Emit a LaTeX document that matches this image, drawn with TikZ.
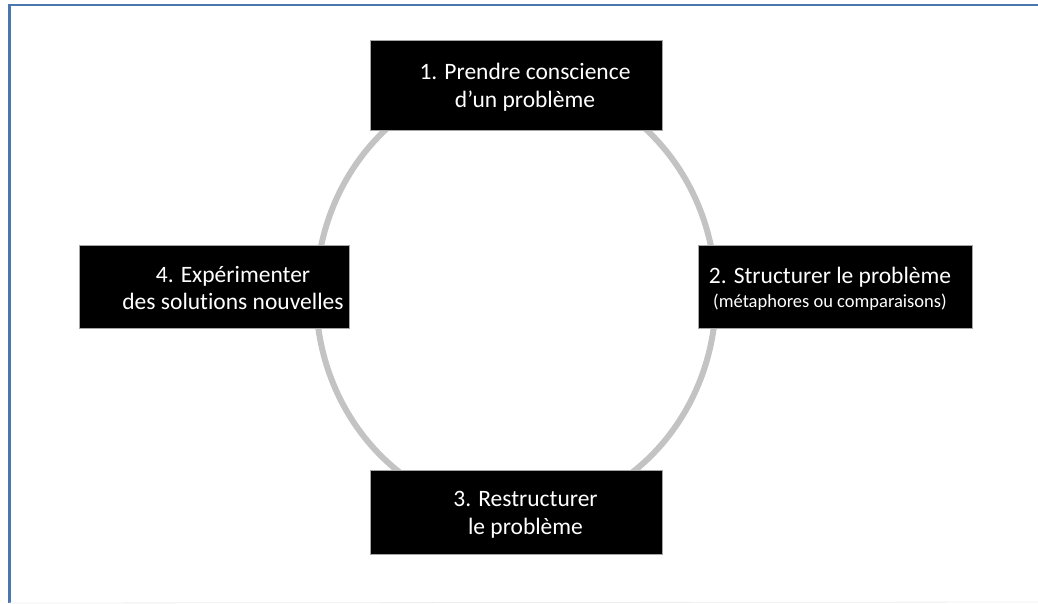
\documentclass[tikz,border=0pt]{standalone}
\usepackage{fontspec}
\setmainfont{Carlito}[Ligatures=NoCommon]
\usetikzlibrary{positioning, calc}

\definecolor{framecol}{HTML}{4A78AC}
\definecolor{ringcol}{HTML}{C3C3C3}

\begin{document}
\begin{tikzpicture}[
  x=1pt, y=-1pt,
  font=\fontsize{23.5}{27.5}\selectfont,
  stepbox/.style={draw=gray!70, line width=0.6pt, fill=black, inner sep=0pt},
  steptext/.style={text=white, align=center, inner sep=0pt},
  ring/.style={draw=ringcol, line width=6pt},
  frameline/.style={draw=framecol, line width=2.6pt},
]
\useasboundingbox (0,0) rectangle (1038,603);

% ---- frame ----
\coordinate (ftl) at (9.5,5);
\coordinate (ftr) at (1038,5);
\coordinate (fbl) at (9.5,603);
\coordinate (fbr) at (1038,602);
\draw[frameline] (ftr) -- (ftl) -- (fbl);
\draw[black!7, line width=0.8pt] (fbl) -- (fbr);

% ---- cycle ----
\coordinate (mid) at (516,295);
\draw[ring] (mid) ellipse [x radius=200pt, y radius=218pt];

% ---- the four steps ----
\node[stepbox, minimum width=292pt, minimum height=90pt] (prise) at (516,85.5) {};
\node[steptext] (tprise) at (525,87) {1. Prendre conscience\\d’un problème};

\node[stepbox, minimum width=274pt, minimum height=83pt] (struct) at (835,286.5) {};
\node[steptext] (tstruct) at (830,289) {2. Structurer le problème\\[-3pt]{\fontsize{18.5}{22}\selectfont (métaphores ou comparaisons)}};

\node[stepbox, minimum width=292pt, minimum height=84pt] (restr) at (516,512) {};
\node[steptext] (trestr) at (525.5,515) {3. Restructurer\\le problème};

\node[stepbox, minimum width=270pt, minimum height=83pt] (exper) at (214,286.5) {};
\node[steptext] (texper) at (233,288) {4. Expérimenter\\des solutions nouvelles};

\end{tikzpicture}
\end{document}
